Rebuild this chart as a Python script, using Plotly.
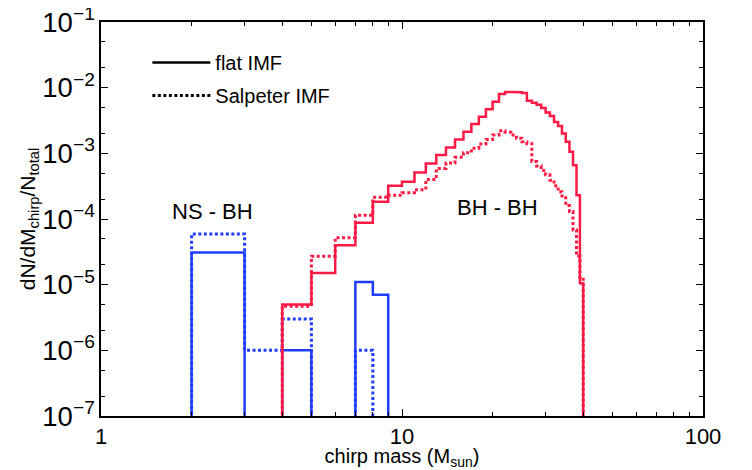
import plotly.graph_objects as go

# NS-BH: bordes de bin (M_sun) y valor por bin (0 = vacío)
ns_edges = [2, 3, 4, 5, 6, 7, 8, 9]
ns_flat = [3.1e-5, 0, 1.0e-6, 0, 0, 1.1e-5, 7.0e-6]
ns_salp = [5.9e-5, 1.0e-6, 3.0e-6, 0, 0, 1.0e-6, 0]

# BH-BH: bins de 1 M_sun entre 4 y 40
bh_edges = list(range(4, 41))
bh_flat = [5.0e-6, 1.5e-5, 4.0e-5, 8.8e-5, 1.83e-4, 3.2e-4, 3.7e-4, 5.1e-4,
           7.0e-4, 9.4e-4, 1.23e-3, 1.63e-3, 2.14e-3, 2.8e-3, 3.6e-3, 4.7e-3,
           6.1e-3, 8.0e-3, 8.6e-3, 8.6e-3, 8.5e-3, 8.3e-3, 6.3e-3, 5.9e-3,
           5.5e-3, 4.9e-3, 4.2e-3, 3.7e-3, 3.0e-3, 2.6e-3, 2.0e-3, 1.5e-3,
           1.06e-3, 6.6e-4, 2.3e-4, 1.05e-5]
bh_salp = [4.7e-6, 2.7e-5, 5.2e-5, 1.14e-4, 2.14e-4, 2.3e-4, 2.5e-4, 2.8e-4,
           4.0e-4, 5.9e-4, 7.1e-4, 8.7e-4, 1.02e-3, 1.2e-3, 1.39e-3, 1.63e-3,
           1.9e-3, 2.2e-3, 2.1e-3, 1.9e-3, 1.7e-3, 1.5e-3, 1.4e-3, 7.5e-4,
           6.4e-4, 5.5e-4, 4.7e-4, 3.9e-4, 3.2e-4, 2.6e-4, 2.1e-4, 1.6e-4,
           1.3e-4, 6.8e-5, 2.7e-5, 1.3e-5]

PISO = 1e-12  # debajo del eje, para que las barras bajen hasta el borde

AZUL = '#1f3cff'
ROJO = '#ff1a45'
FUENTE = 'Liberation Sans, Arial, sans-serif'


def escalones(edges, vals):
    xs, ys = [edges[0]], [PISO]
    for i, v in enumerate(vals):
        v = v if v > 0 else PISO
        xs += [edges[i], edges[i + 1]]
        ys += [v, v]
    xs.append(edges[-1])
    ys.append(PISO)
    return xs, ys


fig = go.Figure()

series = [
    (ns_edges, ns_salp, AZUL, 'dot'),
    (ns_edges, ns_flat, AZUL, 'solid'),
    (bh_edges, bh_salp, ROJO, 'dot'),
    (bh_edges, bh_flat, ROJO, 'solid'),
]
for edges, vals, color, dash in series:
    xs, ys = escalones(edges, vals)
    fig.add_trace(go.Scatter(
        x=xs, y=ys, mode='lines',
        line=dict(color=color, width=3 if dash == 'dot' else 2.5,
                  dash='3px,2.5px' if dash == 'dot' else 'solid'),
        showlegend=False, hoverinfo='skip'
    ))

# leyenda en negro
fig.add_trace(go.Scatter(x=[None], y=[None], mode='lines', name='flat IMF',
                         line=dict(color='black', width=2.5), legendgroup='a'))
fig.add_trace(go.Scatter(x=[None], y=[None], mode='lines', name='Salpeter IMF',
                         line=dict(color='black', width=3, dash='3px,2.5px'),
                         legendgroup='b'))

fig.add_annotation(x=0.372, y=-3.89, xref='x', yref='y', text='NS - BH',
                   showarrow=False, font=dict(size=22, color='black', family=FUENTE))
fig.add_annotation(x=1.316, y=-3.82, xref='x', yref='y', text='BH - BH',
                   showarrow=False, font=dict(size=22, color='black', family=FUENTE))

ejes = dict(
    type='log', showgrid=False, zeroline=False, automargin=False,
    showline=True, linecolor='black', linewidth=1.5, mirror='ticks',
    ticks='inside', ticklen=7, tickcolor='black', tickwidth=1,
    tickfont=dict(size=22, color='black', family=FUENTE),
    ticklabeloverflow='allow', dtick=1,
)

fig.update_xaxes(**ejes, range=[0, 2],
                 minor=dict(ticks='inside', ticklen=4, dtick='D1', tickcolor='black'),
                 title=dict(text='chirp mass (M<sub>sun</sub>)', standoff=4,
                            font=dict(size=20, color='black', family=FUENTE)))
fig.update_yaxes(**ejes, range=[-7, -1], exponentformat='power',
                 minor=dict(ticks='inside', ticklen=4, dtick='D2', tickcolor='black'),
                 title=dict(text='dN/dM<sub>chirp</sub>/N<sub>total</sub>', standoff=0,
                            font=dict(size=21, color='black', family=FUENTE)))

# la página añade 8 px de margen: figura algo menor y márgenes corridos
fig.update_layout(
    width=744, height=462,
    margin=dict(l=93, r=49, t=14, b=54),
    paper_bgcolor='white', plot_bgcolor='white',
    font=dict(family=FUENTE, color='black'),
    legend=dict(x=0.077, y=0.947, xanchor='left', yanchor='top',
                bgcolor='rgba(0,0,0,0)', traceorder='grouped',
                tracegroupgap=4, itemwidth=58,
                font=dict(size=20, color='black', family=FUENTE)),
)

fig.write_html('out.html')
